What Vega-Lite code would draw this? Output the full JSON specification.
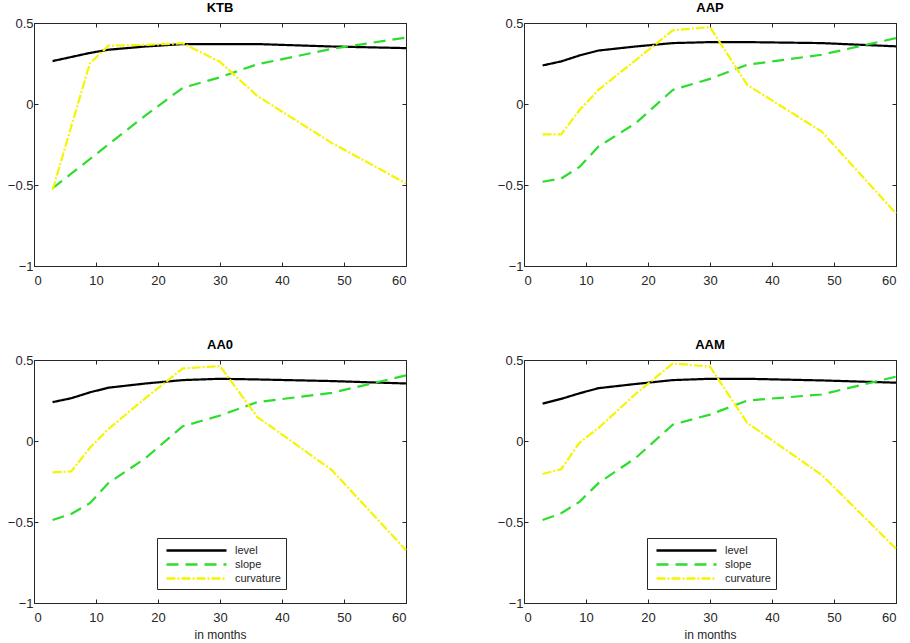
{
  "$schema": "https://vega.github.io/schema/vega-lite/v6.json",
  "background": "white",
  "padding": {"left": 6, "top": 1, "right": 5, "bottom": 0},
  "config": {
    "font": "Liberation Sans",
    "view": {"stroke": "#262626", "strokeWidth": 1},
    "axis": {"domain": false, "grid": false, "tickSize": -4, "tickColor": "#262626", "labelColor": "#262626", "labelFontSize": 13, "titleFontSize": 12, "titleFontWeight": "normal", "titleColor": "#262626"},
    "axisX": {"labelPadding": 12, "titlePadding": 5},
    "axisY": {"labelPadding": 5},
    "title": {"fontSize": 13, "fontWeight": "bold", "color": "#000000", "offset": 2},
    "legend": {"symbolType": "M-5,0H5", "symbolSize": 144, "symbolOffset": 27, "symbolStrokeWidth": 2.5, "labelFontSize": 11, "labelColor": "#262626", "labelOffset": 31, "strokeColor": "#262626", "fillColor": "white", "padding": 5, "rowPadding": 1, "title": null}
  },
  "data": {"values": [
    {"panel":"KTB","m":3,"factor":"level","v":0.265},{"panel":"KTB","m":6,"factor":"level","v":0.29},{"panel":"KTB","m":9,"factor":"level","v":0.315},{"panel":"KTB","m":12,"factor":"level","v":0.335},{"panel":"KTB","m":18,"factor":"level","v":0.355},{"panel":"KTB","m":24,"factor":"level","v":0.37},{"panel":"KTB","m":30,"factor":"level","v":0.37},{"panel":"KTB","m":36,"factor":"level","v":0.37},{"panel":"KTB","m":48,"factor":"level","v":0.355},{"panel":"KTB","m":60,"factor":"level","v":0.345},
    {"panel":"KTB","m":3,"factor":"slope","v":-0.52},{"panel":"KTB","m":6,"factor":"slope","v":-0.43},{"panel":"KTB","m":9,"factor":"slope","v":-0.34},{"panel":"KTB","m":12,"factor":"slope","v":-0.25},{"panel":"KTB","m":18,"factor":"slope","v":-0.07},{"panel":"KTB","m":24,"factor":"slope","v":0.1},{"panel":"KTB","m":30,"factor":"slope","v":0.165},{"panel":"KTB","m":36,"factor":"slope","v":0.245},{"panel":"KTB","m":48,"factor":"slope","v":0.34},{"panel":"KTB","m":60,"factor":"slope","v":0.41},
    {"panel":"KTB","m":3,"factor":"curvature","v":-0.53},{"panel":"KTB","m":6,"factor":"curvature","v":-0.14},{"panel":"KTB","m":9,"factor":"curvature","v":0.25},{"panel":"KTB","m":12,"factor":"curvature","v":0.36},{"panel":"KTB","m":18,"factor":"curvature","v":0.365},{"panel":"KTB","m":24,"factor":"curvature","v":0.375},{"panel":"KTB","m":30,"factor":"curvature","v":0.26},{"panel":"KTB","m":36,"factor":"curvature","v":0.05},{"panel":"KTB","m":48,"factor":"curvature","v":-0.24},{"panel":"KTB","m":60,"factor":"curvature","v":-0.49},
    {"panel":"AAP","m":3,"factor":"level","v":0.238},{"panel":"AAP","m":6,"factor":"level","v":0.263},{"panel":"AAP","m":9,"factor":"level","v":0.3},{"panel":"AAP","m":12,"factor":"level","v":0.33},{"panel":"AAP","m":18,"factor":"level","v":0.355},{"panel":"AAP","m":24,"factor":"level","v":0.376},{"panel":"AAP","m":30,"factor":"level","v":0.382},{"panel":"AAP","m":36,"factor":"level","v":0.382},{"panel":"AAP","m":48,"factor":"level","v":0.376},{"panel":"AAP","m":60,"factor":"level","v":0.356},
    {"panel":"AAP","m":3,"factor":"slope","v":-0.48},{"panel":"AAP","m":6,"factor":"slope","v":-0.46},{"panel":"AAP","m":9,"factor":"slope","v":-0.387},{"panel":"AAP","m":12,"factor":"slope","v":-0.263},{"panel":"AAP","m":18,"factor":"slope","v":-0.119},{"panel":"AAP","m":24,"factor":"slope","v":0.087},{"panel":"AAP","m":30,"factor":"slope","v":0.155},{"panel":"AAP","m":36,"factor":"slope","v":0.242},{"panel":"AAP","m":48,"factor":"slope","v":0.304},{"panel":"AAP","m":60,"factor":"slope","v":0.407},
    {"panel":"AAP","m":3,"factor":"curvature","v":-0.187},{"panel":"AAP","m":6,"factor":"curvature","v":-0.187},{"panel":"AAP","m":9,"factor":"curvature","v":-0.036},{"panel":"AAP","m":12,"factor":"curvature","v":0.087},{"panel":"AAP","m":18,"factor":"curvature","v":0.27},{"panel":"AAP","m":24,"factor":"curvature","v":0.455},{"panel":"AAP","m":30,"factor":"curvature","v":0.475},{"panel":"AAP","m":36,"factor":"curvature","v":0.118},{"panel":"AAP","m":48,"factor":"curvature","v":-0.17},{"panel":"AAP","m":60,"factor":"curvature","v":-0.676},
    {"panel":"AA0","m":3,"factor":"level","v":0.24},{"panel":"AA0","m":6,"factor":"level","v":0.264},{"panel":"AA0","m":9,"factor":"level","v":0.3},{"panel":"AA0","m":12,"factor":"level","v":0.329},{"panel":"AA0","m":18,"factor":"level","v":0.355},{"panel":"AA0","m":24,"factor":"level","v":0.376},{"panel":"AA0","m":30,"factor":"level","v":0.384},{"panel":"AA0","m":36,"factor":"level","v":0.38},{"panel":"AA0","m":48,"factor":"level","v":0.37},{"panel":"AA0","m":60,"factor":"level","v":0.355},
    {"panel":"AA0","m":3,"factor":"slope","v":-0.488},{"panel":"AA0","m":6,"factor":"slope","v":-0.45},{"panel":"AA0","m":9,"factor":"slope","v":-0.384},{"panel":"AA0","m":12,"factor":"slope","v":-0.26},{"panel":"AA0","m":18,"factor":"slope","v":-0.105},{"panel":"AA0","m":24,"factor":"slope","v":0.091},{"panel":"AA0","m":30,"factor":"slope","v":0.157},{"panel":"AA0","m":36,"factor":"slope","v":0.24},{"panel":"AA0","m":48,"factor":"slope","v":0.297},{"panel":"AA0","m":60,"factor":"slope","v":0.405},
    {"panel":"AA0","m":3,"factor":"curvature","v":-0.194},{"panel":"AA0","m":6,"factor":"curvature","v":-0.188},{"panel":"AA0","m":9,"factor":"curvature","v":-0.043},{"panel":"AA0","m":12,"factor":"curvature","v":0.074},{"panel":"AA0","m":18,"factor":"curvature","v":0.265},{"panel":"AA0","m":24,"factor":"curvature","v":0.448},{"panel":"AA0","m":30,"factor":"curvature","v":0.463},{"panel":"AA0","m":36,"factor":"curvature","v":0.149},{"panel":"AA0","m":48,"factor":"curvature","v":-0.178},{"panel":"AA0","m":60,"factor":"curvature","v":-0.674},
    {"panel":"AAM","m":3,"factor":"level","v":0.231},{"panel":"AAM","m":6,"factor":"level","v":0.26},{"panel":"AAM","m":9,"factor":"level","v":0.295},{"panel":"AAM","m":12,"factor":"level","v":0.326},{"panel":"AAM","m":18,"factor":"level","v":0.352},{"panel":"AAM","m":24,"factor":"level","v":0.376},{"panel":"AAM","m":30,"factor":"level","v":0.384},{"panel":"AAM","m":36,"factor":"level","v":0.384},{"panel":"AAM","m":48,"factor":"level","v":0.374},{"panel":"AAM","m":60,"factor":"level","v":0.36},
    {"panel":"AAM","m":3,"factor":"slope","v":-0.488},{"panel":"AAM","m":6,"factor":"slope","v":-0.446},{"panel":"AAM","m":9,"factor":"slope","v":-0.374},{"panel":"AAM","m":12,"factor":"slope","v":-0.26},{"panel":"AAM","m":18,"factor":"slope","v":-0.105},{"panel":"AAM","m":24,"factor":"slope","v":0.101},{"panel":"AAM","m":30,"factor":"slope","v":0.163},{"panel":"AAM","m":36,"factor":"slope","v":0.25},{"panel":"AAM","m":48,"factor":"slope","v":0.287},{"panel":"AAM","m":60,"factor":"slope","v":0.397},
    {"panel":"AAM","m":3,"factor":"curvature","v":-0.204},{"panel":"AAM","m":6,"factor":"curvature","v":-0.174},{"panel":"AAM","m":9,"factor":"curvature","v":-0.008},{"panel":"AAM","m":12,"factor":"curvature","v":0.08},{"panel":"AAM","m":18,"factor":"curvature","v":0.29},{"panel":"AAM","m":24,"factor":"curvature","v":0.479},{"panel":"AAM","m":30,"factor":"curvature","v":0.459},{"panel":"AAM","m":36,"factor":"curvature","v":0.112},{"panel":"AAM","m":48,"factor":"curvature","v":-0.209},{"panel":"AAM","m":60,"factor":"curvature","v":-0.664}
  ]},
  "columns": 2,
  "spacing": {"column": 85, "row": 50},
  "resolve": {"legend": {"color": "independent", "strokeDash": "independent"}},
  "concat": [
    {
      "title": "KTB", "width": 372, "height": 243,
      "transform": [{"filter": "datum.panel === 'KTB'"}],
      "resolve": {"axis": {"x": "independent", "y": "independent"}},
      "layer": [
        {"mark": {"type": "line", "strokeWidth": 2.2},
         "encoding": {
           "x": {"field": "m", "type": "quantitative", "scale": {"domain": [0, 60], "nice": false}, "axis": {"title": null, "values": [0,10,20,30,40,50,60]}},
           "y": {"field": "v", "type": "quantitative", "scale": {"domain": [-1, 0.5], "nice": false}, "axis": {"title": null, "values": [-1,-0.5,0,0.5], "format": "~g"}},
           "color": {"field": "factor", "type": "nominal", "scale": {"domain": ["level","slope","curvature"], "range": ["#000000","#2ddd2d","#f5f500"]}, "legend": null},
           "strokeDash": {"field": "factor", "type": "nominal", "scale": {"domain": ["level","slope","curvature"], "range": [[1,0],[12,7],[9,2,2,2]]}, "legend": null}
         }},
        {"mark": {"type": "point", "opacity": 0},
         "encoding": {
           "x": {"field": "m", "type": "quantitative", "axis": {"orient": "top", "title": null, "labels": false, "values": [0,10,20,30,40,50,60]}},
           "y": {"field": "v", "type": "quantitative", "axis": {"orient": "right", "title": null, "labels": false, "values": [-1,-0.5,0,0.5]}}
         }}
      ]
    },
    {
      "title": "AAP", "width": 372, "height": 243,
      "transform": [{"filter": "datum.panel === 'AAP'"}],
      "resolve": {"axis": {"x": "independent", "y": "independent"}},
      "layer": [
        {"mark": {"type": "line", "strokeWidth": 2.2},
         "encoding": {
           "x": {"field": "m", "type": "quantitative", "scale": {"domain": [0, 60], "nice": false}, "axis": {"title": null, "values": [0,10,20,30,40,50,60]}},
           "y": {"field": "v", "type": "quantitative", "scale": {"domain": [-1, 0.5], "nice": false}, "axis": {"title": null, "values": [-1,-0.5,0,0.5], "format": "~g"}},
           "color": {"field": "factor", "type": "nominal", "scale": {"domain": ["level","slope","curvature"], "range": ["#000000","#2ddd2d","#f5f500"]}, "legend": null},
           "strokeDash": {"field": "factor", "type": "nominal", "scale": {"domain": ["level","slope","curvature"], "range": [[1,0],[12,7],[9,2,2,2]]}, "legend": null}
         }},
        {"mark": {"type": "point", "opacity": 0},
         "encoding": {
           "x": {"field": "m", "type": "quantitative", "axis": {"orient": "top", "title": null, "labels": false, "values": [0,10,20,30,40,50,60]}},
           "y": {"field": "v", "type": "quantitative", "axis": {"orient": "right", "title": null, "labels": false, "values": [-1,-0.5,0,0.5]}}
         }}
      ]
    },
    {
      "title": "AA0", "width": 372, "height": 243,
      "transform": [{"filter": "datum.panel === 'AA0'"}],
      "resolve": {"axis": {"x": "independent", "y": "independent"}},
      "layer": [
        {"mark": {"type": "line", "strokeWidth": 2.2},
         "encoding": {
           "x": {"field": "m", "type": "quantitative", "scale": {"domain": [0, 60], "nice": false}, "axis": {"title": "in months", "values": [0,10,20,30,40,50,60]}},
           "y": {"field": "v", "type": "quantitative", "scale": {"domain": [-1, 0.5], "nice": false}, "axis": {"title": null, "values": [-1,-0.5,0,0.5], "format": "~g"}},
           "color": {"field": "factor", "type": "nominal", "scale": {"domain": ["level","slope","curvature"], "range": ["#000000","#2ddd2d","#f5f500"]}, "legend": {"orient": "none", "legendX": 123, "legendY": 178}},
           "strokeDash": {"field": "factor", "type": "nominal", "scale": {"domain": ["level","slope","curvature"], "range": [[1,0],[12,7],[9,2,2,2]]}, "legend": {"orient": "none", "legendX": 123, "legendY": 178}}
         }},
        {"mark": {"type": "point", "opacity": 0},
         "encoding": {
           "x": {"field": "m", "type": "quantitative", "axis": {"orient": "top", "title": null, "labels": false, "values": [0,10,20,30,40,50,60]}},
           "y": {"field": "v", "type": "quantitative", "axis": {"orient": "right", "title": null, "labels": false, "values": [-1,-0.5,0,0.5]}}
         }}
      ]
    },
    {
      "title": "AAM", "width": 372, "height": 243,
      "transform": [{"filter": "datum.panel === 'AAM'"}],
      "resolve": {"axis": {"x": "independent", "y": "independent"}},
      "layer": [
        {"mark": {"type": "line", "strokeWidth": 2.2},
         "encoding": {
           "x": {"field": "m", "type": "quantitative", "scale": {"domain": [0, 60], "nice": false}, "axis": {"title": "in months", "values": [0,10,20,30,40,50,60]}},
           "y": {"field": "v", "type": "quantitative", "scale": {"domain": [-1, 0.5], "nice": false}, "axis": {"title": null, "values": [-1,-0.5,0,0.5], "format": "~g"}},
           "color": {"field": "factor", "type": "nominal", "scale": {"domain": ["level","slope","curvature"], "range": ["#000000","#2ddd2d","#f5f500"]}, "legend": {"orient": "none", "legendX": 123, "legendY": 178}},
           "strokeDash": {"field": "factor", "type": "nominal", "scale": {"domain": ["level","slope","curvature"], "range": [[1,0],[12,7],[9,2,2,2]]}, "legend": {"orient": "none", "legendX": 123, "legendY": 178}}
         }},
        {"mark": {"type": "point", "opacity": 0},
         "encoding": {
           "x": {"field": "m", "type": "quantitative", "axis": {"orient": "top", "title": null, "labels": false, "values": [0,10,20,30,40,50,60]}},
           "y": {"field": "v", "type": "quantitative", "axis": {"orient": "right", "title": null, "labels": false, "values": [-1,-0.5,0,0.5]}}
         }}
      ]
    }
  ]
}
